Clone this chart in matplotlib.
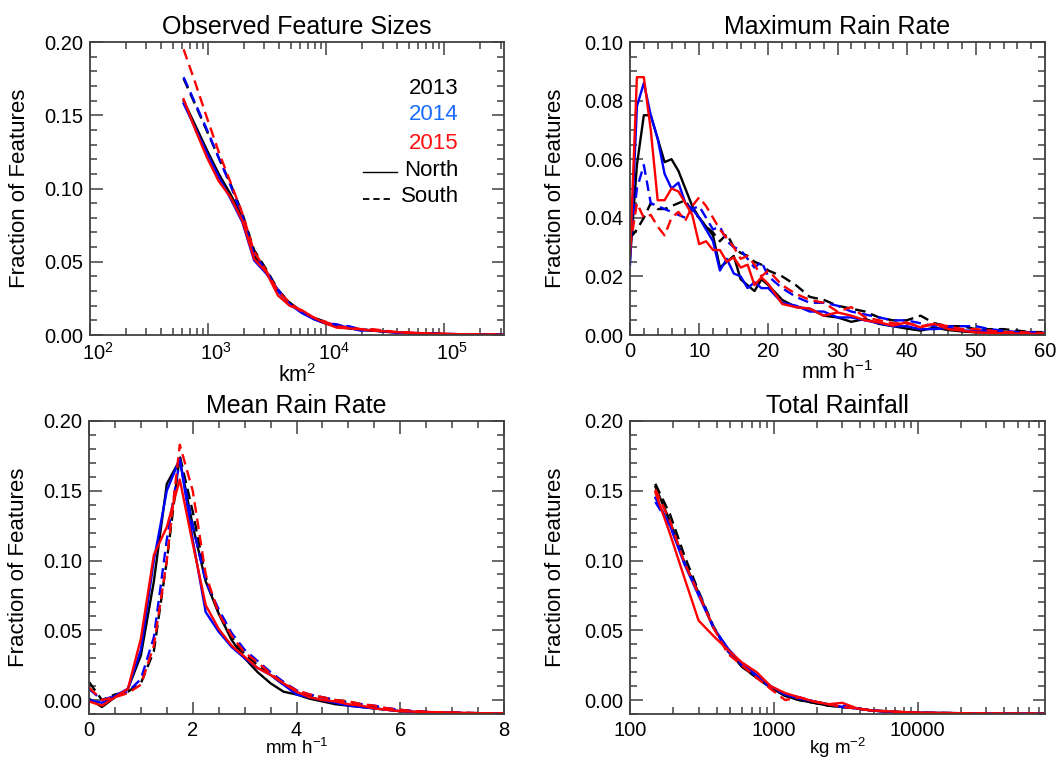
import matplotlib
matplotlib.use("Agg")
import matplotlib.pyplot as plt
from matplotlib.ticker import MultipleLocator, LogLocator, NullFormatter, FuncFormatter
from matplotlib.lines import Line2D
from matplotlib.transforms import ScaledTranslation

plt.rcParams["font.family"] = ["Liberation Sans", "DejaVu Sans"]
plt.rcParams["mathtext.fontset"] = "custom"
plt.rcParams["mathtext.rm"] = "Liberation Sans"
plt.rcParams["mathtext.it"] = "Liberation Sans:italic"
plt.rcParams["mathtext.bf"] = "Liberation Sans:bold"

YEARS = ["2013", "2014", "2015"]
LINE_COLORS = ["#000000", "#0000ff", "#ff0000"]
TEXT_COLORS = ["#000000", "#1a6cff", "#ff1010"]
AXIS_GRAY = "#404040"

# ---- Observed feature sizes (km^2) ----
SIZE_X = [620, 780, 980, 1230, 1550, 1950, 2450, 3100, 3900, 4900, 6200, 7800, 9800, 12300,
          15500, 19500, 24500, 31000, 39000, 49000, 62000, 78000, 98000, 123000, 155000,
          195000, 245000, 310000]
SIZE_NORTH = {
    "2013": [0.160, 0.143, 0.126, 0.110, 0.096, 0.080, 0.054, 0.043, 0.030, 0.022, 0.016, 0.011,
             0.008, 0.006, 0.0045, 0.0035, 0.003, 0.0022, 0.0018, 0.0014, 0.0011, 0.0008, 0.0006,
             0.0005, 0.0004, 0.0003, 0.0003, 0.0002],
    "2014": [0.158, 0.141, 0.124, 0.108, 0.093, 0.077, 0.051, 0.042, 0.031, 0.021, 0.015, 0.011,
             0.008, 0.007, 0.005, 0.003, 0.0035, 0.0025, 0.0015, 0.0012, 0.0010, 0.0009, 0.0006,
             0.0004, 0.0005, 0.0003, 0.0002, 0.0003],
    "2015": [0.161, 0.140, 0.121, 0.105, 0.094, 0.078, 0.052, 0.043, 0.027, 0.020, 0.017, 0.012,
             0.008, 0.005, 0.0045, 0.0040, 0.0030, 0.0025, 0.0020, 0.0015, 0.0013, 0.0009, 0.0008,
             0.0006, 0.0005, 0.0004, 0.0003, 0.0002],
}
SIZE_SOUTH = {
    "2013": [0.175, 0.157, 0.139, 0.121, 0.103, 0.083, 0.058, 0.045, 0.031, 0.022, 0.016, 0.012,
             0.009, 0.007, 0.005, 0.004, 0.003, 0.0025, 0.0020, 0.0015, 0.0012, 0.0010, 0.0008,
             0.0006, 0.0005, 0.0004, 0.0003, 0.0003],
    "2014": [0.176, 0.158, 0.140, 0.121, 0.102, 0.081, 0.055, 0.044, 0.030, 0.021, 0.016, 0.011,
             0.008, 0.007, 0.006, 0.004, 0.003, 0.0025, 0.002, 0.0015, 0.0012, 0.0009, 0.0007,
             0.0006, 0.0004, 0.0004, 0.0003, 0.0002],
    "2015": [0.195, 0.172, 0.148, 0.125, 0.104, 0.083, 0.057, 0.044, 0.030, 0.022, 0.016, 0.012,
             0.009, 0.006, 0.005, 0.004, 0.004, 0.003, 0.002, 0.0018, 0.0013, 0.0010, 0.0008,
             0.0006, 0.0005, 0.0004, 0.0003, 0.0003],
}

# ---- Maximum rain rate (mm/h) ----
MAXR_X = list(range(0, 21)) + list(range(22, 61, 2))
MAXR_NORTH = {
    "2013": [0.026, 0.058, 0.075, 0.075, 0.067, 0.059, 0.060, 0.056, 0.050, 0.044, 0.040, 0.037,
             0.034, 0.023, 0.025, 0.027, 0.019, 0.017, 0.015, 0.019, 0.017,
             0.012, 0.0095, 0.009, 0.0066, 0.006, 0.0045, 0.0055, 0.0038, 0.003, 0.0022, 0.0015,
             0.0025, 0.0017, 0.0012, 0.0009, 0.0008, 0.0006, 0.0005, 0.0004, 0.0003],
    "2014": [0.024, 0.078, 0.086, 0.075, 0.067, 0.055, 0.050, 0.052, 0.045, 0.043, 0.040, 0.036,
             0.032, 0.022, 0.026, 0.021, 0.020, 0.016, 0.018, 0.016, 0.016,
             0.011, 0.010, 0.008, 0.008, 0.006, 0.006, 0.005, 0.004, 0.003, 0.003, 0.002,
             0.002, 0.0025, 0.0015, 0.0015, 0.0015, 0.001, 0.0008, 0.0006, 0.0005],
    "2015": [0.027, 0.088, 0.088, 0.070, 0.046, 0.046, 0.050, 0.049, 0.045, 0.041, 0.031, 0.032,
             0.029, 0.029, 0.025, 0.0265, 0.023, 0.024, 0.017, 0.0197, 0.0174,
             0.0106, 0.0095, 0.009, 0.0066, 0.0077, 0.0066, 0.005, 0.0043, 0.0032, 0.0043, 0.0026,
             0.0038, 0.002, 0.0015, 0.0009, 0.0007, 0.0006, 0.0005, 0.0004, 0.0004],
}
MAXR_SOUTH = {
    "2013": [0.033, 0.036, 0.040, 0.045, 0.043, 0.043, 0.044, 0.045, 0.046, 0.042, 0.040, 0.037,
             0.035, 0.032, 0.0345, 0.030, 0.028, 0.027, 0.025, 0.024, 0.022,
             0.020, 0.017, 0.013, 0.012, 0.010, 0.009, 0.008, 0.006, 0.005, 0.005, 0.0066,
             0.004, 0.003, 0.003, 0.002, 0.002, 0.002, 0.0015, 0.001, 0.001],
    "2014": [0.030, 0.050, 0.058, 0.045, 0.044, 0.043, 0.042, 0.041, 0.040, 0.043, 0.044, 0.040,
             0.036, 0.037, 0.032, 0.030, 0.029, 0.026, 0.023, 0.025, 0.020,
             0.016, 0.013, 0.011, 0.011, 0.010, 0.008, 0.007, 0.006, 0.005, 0.005, 0.004,
             0.003, 0.003, 0.003, 0.003, 0.002, 0.0015, 0.001, 0.001, 0.0008],
    "2015": [0.030, 0.045, 0.040, 0.041, 0.037, 0.034, 0.040, 0.042, 0.039, 0.044, 0.047, 0.044,
             0.040, 0.036, 0.033, 0.030, 0.026, 0.027, 0.024, 0.020, 0.022,
             0.017, 0.014, 0.012, 0.011, 0.008, 0.0095, 0.006, 0.005, 0.004, 0.004, 0.003,
             0.0038, 0.003, 0.002, 0.002, 0.0015, 0.001, 0.001, 0.0008, 0.0006],
}

# ---- Mean rain rate (mm/h) ----
MEAN_X = [i * 0.25 for i in range(33)]
MEAN_NORTH = {
    "2013": [0.001, -0.005, 0.002, 0.008, 0.032, 0.085, 0.155, 0.172, 0.125, 0.085, 0.062, 0.043,
             0.030, 0.020, 0.012, 0.006, 0.004, 0.001, -0.001, -0.003, -0.004, -0.005, -0.006,
             -0.007, -0.008, -0.0085, -0.009, -0.009, -0.0092, -0.0094, -0.0095, -0.0096, -0.0097],
    "2014": [0.000, -0.002, 0.003, 0.008, 0.036, 0.100, 0.150, 0.173, 0.115, 0.063, 0.049, 0.038,
             0.030, 0.023, 0.018, 0.011, 0.004, 0.002, 0.000, -0.002, -0.004, -0.005, -0.006,
             -0.007, -0.008, -0.0085, -0.009, -0.009, -0.0092, -0.0094, -0.0095, -0.0096, -0.0097],
    "2015": [-0.001, -0.004, 0.002, 0.008, 0.044, 0.104, 0.124, 0.158, 0.112, 0.068, 0.051, 0.039,
             0.031, 0.023, 0.018, 0.012, 0.006, 0.002, 0.000, -0.001, -0.003, -0.004, -0.006,
             -0.007, -0.008, -0.0083, -0.0085, -0.0088, -0.009, -0.0092, -0.0094, -0.0095, -0.0096],
}
MEAN_SOUTH = {
    "2013": [0.013, 0.000, 0.004, 0.006, 0.012, 0.035, 0.100, 0.175, 0.135, 0.088, 0.062, 0.045,
             0.033, 0.025, 0.018, 0.011, 0.006, 0.003, 0.002, 0.000, -0.001, -0.003, -0.005,
             -0.006, -0.007, -0.008, -0.0085, -0.009, -0.009, -0.0092, -0.0094, -0.0095, -0.0096],
    "2014": [0.008, 0.000, 0.003, 0.006, 0.015, 0.045, 0.115, 0.172, 0.125, 0.085, 0.065, 0.048,
             0.036, 0.028, 0.020, 0.013, 0.007, 0.004, 0.002, 0.000, -0.002, -0.003, -0.004,
             -0.006, -0.007, -0.008, -0.0085, -0.009, -0.009, -0.0092, -0.0094, -0.0095, -0.0096],
    "2015": [0.009, 0.000, 0.002, 0.005, 0.011, 0.039, 0.100, 0.183, 0.150, 0.090, 0.062, 0.046,
             0.034, 0.027, 0.019, 0.012, 0.007, 0.004, 0.002, 0.000, -0.001, -0.003, -0.004,
             -0.006, -0.007, -0.008, -0.0085, -0.0088, -0.009, -0.0092, -0.0094, -0.0095, -0.0096],
}

# ---- Total rainfall (kg/m^2) ----
TOTAL_X = [150, 190, 240, 300, 380, 480, 600, 760, 950, 1200, 1500, 1900, 2400, 3000, 3800,
           4800, 6000, 7600, 9500, 12000, 15000, 19000, 24000, 30000, 38000, 48000, 60000, 76000]
TOTAL_NORTH = {
    "2013": [0.153, 0.128, 0.098, 0.077, 0.052, 0.036, 0.024, 0.016, 0.009, 0.003, 0.000, -0.002,
             -0.004, -0.005, -0.006, -0.0075, -0.0083, -0.0088, -0.009, -0.0092, -0.0093, -0.0094,
             -0.0095, -0.0096, -0.0096, -0.0097, -0.0097, -0.0098],
    "2014": [0.145, 0.125, 0.097, 0.075, 0.052, 0.037, 0.026, 0.018, 0.010, 0.004, 0.001, -0.001,
             -0.003, -0.005, -0.006, -0.0075, -0.0083, -0.0088, -0.009, -0.0092, -0.0093, -0.0094,
             -0.0095, -0.0096, -0.0096, -0.0097, -0.0097, -0.0098],
    "2015": [0.149, 0.119, 0.087, 0.057, 0.046, 0.036, 0.027, 0.020, 0.010, 0.005, 0.002, -0.001,
             -0.003, -0.002, -0.006, -0.0075, -0.008, -0.0085, -0.009, -0.0092, -0.0093, -0.0094,
             -0.0095, -0.0096, -0.0096, -0.0097, -0.0097, -0.0098],
}
TOTAL_SOUTH = {
    "2013": [0.155, 0.133, 0.103, 0.078, 0.053, 0.035, 0.024, 0.016, 0.009, 0.003, 0.000, -0.002,
             -0.004, -0.005, -0.006, -0.0075, -0.008, -0.0086, -0.009, -0.0092, -0.0093, -0.0094,
             -0.0095, -0.0096, -0.0096, -0.0097, -0.0097, -0.0098],
    "2014": [0.142, 0.125, 0.098, 0.077, 0.052, 0.035, 0.025, 0.017, 0.009, 0.004, 0.002, -0.001,
             -0.003, -0.004, -0.006, -0.0075, -0.008, -0.0086, -0.009, -0.0092, -0.0093, -0.0094,
             -0.0095, -0.0096, -0.0096, -0.0097, -0.0097, -0.0098],
    "2015": [0.151, 0.128, 0.098, 0.076, 0.052, 0.033, 0.025, 0.016, 0.008, 0.000, 0.002, -0.001,
             -0.003, -0.005, -0.006, -0.0075, -0.008, -0.0086, -0.009, -0.0092, -0.0093, -0.0094,
             -0.0095, -0.0096, -0.0096, -0.0097, -0.0097, -0.0098],
}

TICK_SIZE = 14.5
LABEL_SIZE = 15.5
YLABEL_SIZE = 16
TITLE_SIZE = 18
DASHES = (4.5, 2.5)


def style_axis(ax, title, xlabel, ylabel_pad, xlabel_pad=0, xlabel_size=LABEL_SIZE):
    ax.set_title(title, fontsize=TITLE_SIZE, pad=6)
    ax.set_xlabel(xlabel, fontsize=xlabel_size, labelpad=xlabel_pad)
    ax.set_ylabel("Fraction of Features", fontsize=YLABEL_SIZE, labelpad=ylabel_pad)
    for sp in ax.spines.values():
        sp.set_color(AXIS_GRAY)
        sp.set_linewidth(1.3)
    ax.tick_params(which="both", direction="in", top=True, right=True, colors=AXIS_GRAY,
                   labelcolor="black", labelsize=TICK_SIZE, width=1.1)
    ax.tick_params(which="major", length=9, pad=5)
    ax.tick_params(which="minor", length=5)


def draw_series(ax, xs, north, south):
    for year, color in zip(YEARS, LINE_COLORS):
        ax.plot(xs, north[year], color=color, lw=1.7)
        ax.plot(xs, south[year], color=color, lw=1.7, dashes=DASHES)


def main() -> None:
    fig = plt.figure(figsize=(10.6, 7.58), dpi=100)
    ax1 = fig.add_axes([90 / 1060, 1 - 335 / 758, 414 / 1060, 293 / 758])
    ax2 = fig.add_axes([630 / 1060, 1 - 335 / 758, 415 / 1060, 293 / 758])
    ax3 = fig.add_axes([89 / 1060, 1 - 714 / 758, 415 / 1060, 293 / 758])
    ax4 = fig.add_axes([630 / 1060, 1 - 714 / 758, 415 / 1060, 293 / 758])
    fmt2 = FuncFormatter(lambda v, p: f"{v:.2f}")

    # panel 1: feature sizes
    draw_series(ax1, SIZE_X, SIZE_NORTH, SIZE_SOUTH)
    ax1.set_xscale("log")
    ax1.set_xlim(100, 3.2e5)
    ax1.set_ylim(0.0, 0.20)
    ax1.yaxis.set_major_locator(MultipleLocator(0.05))
    ax1.yaxis.set_minor_locator(MultipleLocator(0.01))
    ax1.yaxis.set_major_formatter(fmt2)
    ax1.set_xticks([1e2, 1e3, 1e4, 1e5])
    ax1.xaxis.set_minor_locator(LogLocator(base=10, subs=range(2, 10), numticks=20))
    ax1.xaxis.set_minor_formatter(NullFormatter())
    style_axis(ax1, "Observed Feature Sizes", r"km$^{2}$", 10)
    shift = ScaledTranslation(8 / 100, 0, fig.dpi_scale_trans)
    for tick in ax1.xaxis.get_major_ticks():
        tick.label1.set_transform(tick.label1.get_transform() + shift)

    ax1.text(0.891, 0.843, YEARS[0], color=TEXT_COLORS[0], fontsize=16, ha="right", va="center", transform=ax1.transAxes)
    ax1.text(0.891, 0.751, YEARS[1], color=TEXT_COLORS[1], fontsize=16, ha="right", va="center", transform=ax1.transAxes)
    ax1.text(0.891, 0.655, YEARS[2], color=TEXT_COLORS[2], fontsize=16, ha="right", va="center", transform=ax1.transAxes)
    ax1.text(0.891, 0.563, "North", color="black", fontsize=16, ha="right", va="center", transform=ax1.transAxes)
    ax1.text(0.891, 0.471, "South", color="black", fontsize=16, ha="right", va="center", transform=ax1.transAxes)
    ax1.add_line(Line2D([0.659, 0.742], [0.556, 0.556], color="black", lw=1.0, transform=ax1.transAxes))
    ax1.add_line(Line2D([0.659, 0.730], [0.464, 0.464], color="black", lw=1.3, dashes=(3.5, 2.2),
                        transform=ax1.transAxes))

    # panel 2: max rain rate
    draw_series(ax2, MAXR_X, MAXR_NORTH, MAXR_SOUTH)
    ax2.set_xlim(0, 60)
    ax2.set_ylim(0.0, 0.10)
    ax2.xaxis.set_major_locator(MultipleLocator(10))
    ax2.xaxis.set_minor_locator(MultipleLocator(2))
    ax2.yaxis.set_major_locator(MultipleLocator(0.02))
    ax2.yaxis.set_minor_locator(MultipleLocator(0.005))
    ax2.yaxis.set_major_formatter(fmt2)
    style_axis(ax2, "Maximum Rain Rate", r"mm h$^{-1}$", 13)

    # panel 3: mean rain rate
    draw_series(ax3, MEAN_X, MEAN_NORTH, MEAN_SOUTH)
    ax3.set_xlim(0, 8)
    ax3.set_ylim(-0.01, 0.20)
    ax3.xaxis.set_major_locator(MultipleLocator(2))
    ax3.xaxis.set_minor_locator(MultipleLocator(0.5))
    ax3.set_yticks([0.0, 0.05, 0.10, 0.15, 0.20])
    ax3.yaxis.set_minor_locator(MultipleLocator(0.01))
    ax3.yaxis.set_major_formatter(fmt2)
    style_axis(ax3, "Mean Rain Rate", r"mm h$^{-1}$", 10, xlabel_pad=-1.2, xlabel_size=13.5)

    # panel 4: total rainfall
    draw_series(ax4, TOTAL_X, TOTAL_NORTH, TOTAL_SOUTH)
    ax4.set_xscale("log")
    ax4.set_xlim(100, 7.7e4)
    ax4.set_ylim(-0.01, 0.20)
    ax4.set_xticks([1e2, 1e3, 1e4])
    ax4.xaxis.set_minor_locator(LogLocator(base=10, subs=range(2, 10), numticks=20))
    ax4.xaxis.set_minor_formatter(NullFormatter())
    ax4.xaxis.set_major_formatter(FuncFormatter(lambda v, p: f"{v:.0f}"))
    ax4.set_yticks([0.0, 0.05, 0.10, 0.15, 0.20])
    ax4.yaxis.set_minor_locator(MultipleLocator(0.01))
    ax4.yaxis.set_major_formatter(fmt2)
    style_axis(ax4, "Total Rainfall", r"kg m$^{-2}$", 13, xlabel_pad=-3, xlabel_size=13.5)

    fig.savefig("out.png", dpi=100)
    plt.close(fig)


if __name__ == "__main__":
    main()
